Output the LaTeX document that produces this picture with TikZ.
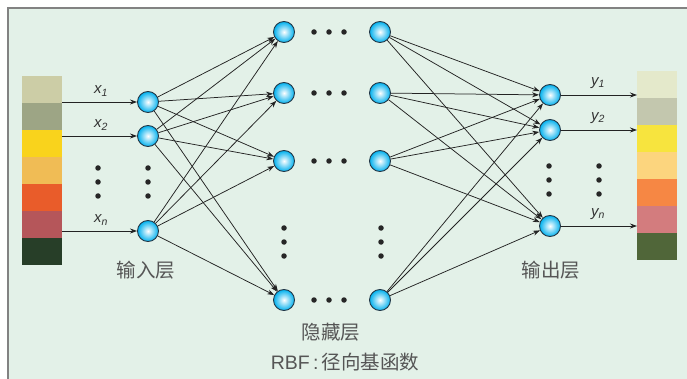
\documentclass[tikz,border=0pt]{standalone}
\usepackage{fontspec}
\setmainfont{Liberation Sans}
\newfontfamily\cjk{Noto Sans CJK SC}
\usetikzlibrary{arrows.meta}
\definecolor{bgcol}{RGB}{227,241,232}
\definecolor{framecol}{RGB}{130,130,130}
\definecolor{ballcol}{RGB}{0,176,238}
\definecolor{rimcol}{RGB}{35,55,70}
\definecolor{linecol}{RGB}{35,35,35}
\definecolor{txtcol}{RGB}{85,85,85}
\begin{document}
\begin{tikzpicture}[x=1pt,y=-1pt,
  neuron/.style={circle, minimum size=21pt, inner sep=0pt, draw=rimcol, line width=0.9pt,
    inner color=white, outer color=ballcol},
  link/.style={draw=linecol, line width=0.75pt, -{Stealth[length=7pt,width=5pt]}},
  dot/.style={circle, fill=black!85, inner sep=0pt, minimum size=5.5pt},
  caption/.style={text=txtcol, font=\cjk\fontsize{19.5}{20}\selectfont},
  varlabel/.style={text=black!80, font=\fontsize{15}{15}\selectfont\itshape}]
\useasboundingbox (0,0) rectangle (687,379);
% background panel and frame
\fill[bgcol] (8,8) rectangle (687,379);
\draw[framecol, line width=2pt] (8,379) -- (8,8) -- (687,8);

% input colour strip
\foreach \c [count=\i from 0] in {{204,205,166},{157,165,133},{249,211,28},{240,188,85},{233,92,42},{181,86,90},{39,62,40}}{
  \definecolor{tmp}{RGB}{\c}
  \fill[tmp] (22,76+27*\i) rectangle (62,103+27*\i);
}
% output colour strip
\foreach \c [count=\i from 0] in {{228,233,203},{195,199,174},{247,228,62},{252,213,126},{246,135,68},{211,124,126},{80,102,57}}{
  \definecolor{tmp}{RGB}{\c}
  \fill[tmp] (637,71+27*\i) rectangle (677,98+27*\i);
}
\coordinate (s1) at (62,102);
\coordinate (s2) at (62,136);
\coordinate (s3) at (62,231);
\coordinate (t1) at (637,95);
\coordinate (t2) at (637,130);
\coordinate (t3) at (637,226);

% input layer
\node[neuron] (i1) at (148,102) {};
\node[neuron] (i2) at (148,136) {};
\node[neuron] (i3) at (148,231) {};
% hidden layer, two columns
\foreach \y [count=\k] in {32,93,161,300}{
  \node[neuron] (a\k) at (284,\y) {};
  \node[neuron] (b\k) at (380,\y) {};
  \foreach \dx in {314,329,344}{ \node[dot] at (\dx,\y) {}; }
}
% output layer
\node[neuron] (o1) at (550,95) {};
\node[neuron] (o2) at (550,130) {};
\node[neuron] (o3) at (550,226) {};

% vertical ellipses
\foreach \dy in {168,182,196}{
  \node[dot] at (98,\dy) {};
  \node[dot] at (148,\dy) {};
}
\foreach \dy in {228,242,256}{
  \node[dot] at (284,\dy) {};
  \node[dot] at (381,\dy) {};
}
\foreach \dy in {166,180,194}{
  \node[dot] at (549,\dy) {};
  \node[dot] at (599,\dy) {};
}

% inputs and outputs
\draw[link] (s1) -- (i1);
\draw[link] (s2) -- (i2);
\draw[link] (s3) -- (i3);
\draw[link] (o1) -- (t1);
\draw[link] (o2) -- (t2);
\draw[link] (o3) -- (t3);
\node[varlabel] (lx1) at (101,91) {x\textsubscript{1}};
\node[varlabel] (lx2) at (101,125) {x\textsubscript{2}};
\node[varlabel] (lx3) at (101,220) {x\textsubscript{\textit{n}}};
\node[varlabel] (ly1) at (598,83) {y\textsubscript{1}};
\node[varlabel] (ly2) at (598,118) {y\textsubscript{2}};
\node[varlabel] (ly3) at (598,214) {y\textsubscript{\textit{n}}};

% full connections
\foreach \i in {1,2,3}{
  \foreach \k in {1,2,3,4}{
    \draw[link] (i\i) -- (a\k);
    \draw[link] (b\k) -- (o\i);
  }
}

% captions
\node[caption] (cin) at (146,270) {输入层};
\node[caption] (cout) at (551,270) {输出层};
\node[caption] (chid) at (331,332) {隐藏层};
\node[caption] (crbf) at (345,362) {\fontspec{Liberation Sans}RBF\,:\,\cjk 径向基函数};
\end{tikzpicture}
\end{document}
